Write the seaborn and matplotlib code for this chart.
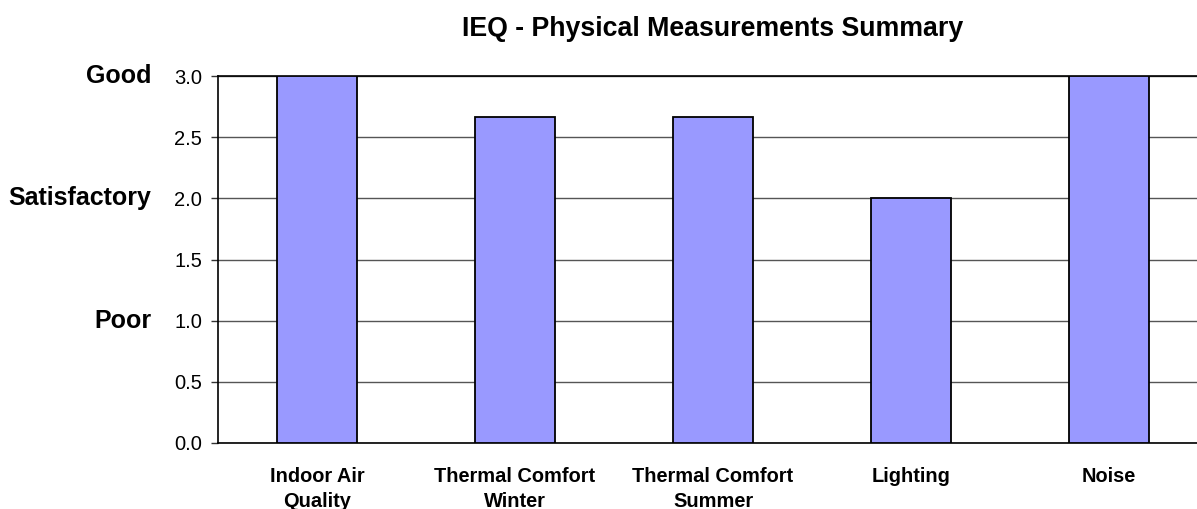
import seaborn as sns
import matplotlib.pyplot as plt

# chart data
categories = ["Indoor Air\nQuality", "Thermal Comfort\nWinter", "Thermal Comfort\nSummer",
              "Lighting", "Noise"]
scores = [3.0, 2.667, 2.667, 2.0, 3.0]
rating_labels = ["Good", "Satisfactory", "Poor"]
rating_values = [3.0, 2.0, 1.0]
y_ticks = [0.0, 0.5, 1.0, 1.5, 2.0, 2.5, 3.0]

sns.set_style("white")
plt.rcParams['font.family'] = ['Liberation Sans', 'DejaVu Sans']
plt.rcParams['text.color'] = 'black'
plt.rcParams['xtick.color'] = 'black'
plt.rcParams['ytick.color'] = 'black'

fig = plt.figure(figsize=(11.97, 5.09), dpi=100)
ax = fig.add_axes([218 / 1197, 66 / 509, 990 / 1197, 367 / 509])

sns.barplot(x=categories, y=scores, color="#9999FF", saturation=1, width=0.4,
            edgecolor="black", linewidth=1.3, ax=ax, zorder=3)

ax.set_ylim(0, 3.0)
ax.set_xlim(-0.5, 4.5)
ax.set_yticks(y_ticks)
ax.set_yticklabels([f"{v:.1f}" for v in y_ticks], fontsize=14.5)
ax.yaxis.grid(True, color="#555555", linewidth=1, zorder=0)
ax.set_axisbelow(True)

# category labels at centers, tick marks between categories
ax.set_xticks(range(len(categories)))
ax.set_xticklabels(categories, fontsize=14.4, fontweight="bold", linespacing=1.4)
ax.set_xticks([i - 0.5 for i in range(len(categories) + 1)], minor=True)
ax.tick_params(axis="x", which="major", length=0, pad=17)
ax.tick_params(axis="x", which="minor", length=5, width=1, color="#333333", direction="out")
ax.tick_params(axis="y", length=5, width=1, color="#333333", direction="out", pad=6.5, left=True)

for side in ["left", "bottom", "top"]:
    ax.spines[side].set_visible(True)
    ax.spines[side].set_color("black")
    ax.spines[side].set_linewidth(1.2)
ax.spines["right"].set_visible(False)

for lab, val in zip(rating_labels, rating_values):
    ax.annotate(lab, xy=(0, val), xycoords=("axes fraction", "data"),
                xytext=(-48, 0), textcoords="offset points",
                ha="right", va="center", fontsize=18, fontweight="bold")

ax.set_title("IEQ - Physical Measurements Summary", fontsize=19.3, fontweight="bold", pad=29)
ax.set_xlabel("")
ax.set_ylabel("")

fig.savefig("out.png", dpi=100)
